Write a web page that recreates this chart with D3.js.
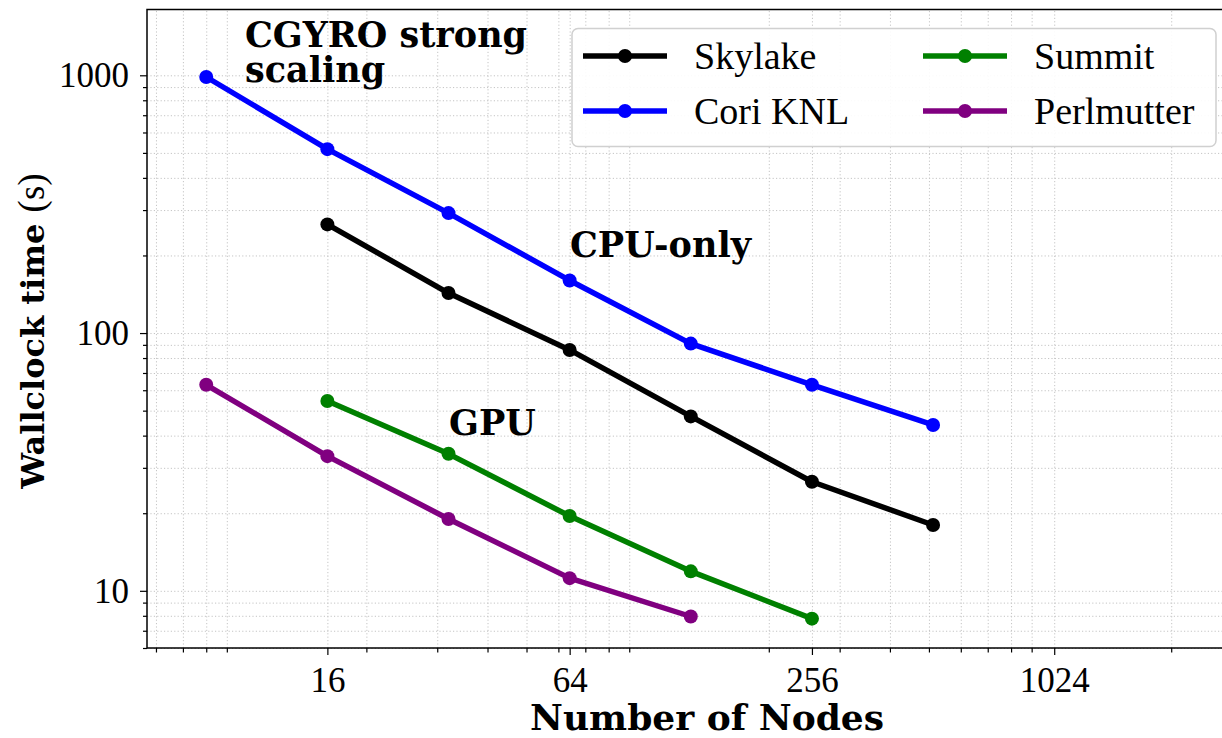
<!DOCTYPE html>
<html lang="en">
  <head>
    <meta charset="UTF-8" />
    <title>CGYRO strong scaling</title>
    <script src="https://cdn.jsdelivr.net/npm/d3@7"></script>
    <style>
      body { margin: 0; background: #fff; }
      .grid line { stroke: #c4c4c4; stroke-width: 1; stroke-dasharray: 1.2, 2.2; }
      .rm { font-family: "Liberation Serif"; }
      .bf { font-family: "DejaVu Serif"; font-weight: bold; }
    </style>
  </head>
  <body>
    <svg width="1222" height="738"></svg>
    <script>
      // data
      var nodes = [8, 16, 32, 64, 128, 256, 512];
      var skylake = [null, 264, 143, 86, 47.5, 26.5, 18];
      var coriKNL = [985, 517, 292, 160, 91, 63, 44];
      var summit = [null, 54.5, 34, 19.5, 11.9, 7.8, null];
      var perlmutter = [63, 33.3, 19, 11.2, 7.95, null, null];

      var xTicks = [16, 64, 256, 1024];
      var yTicks = [10, 100, 1000];

      var series = [
        { name: "Skylake", color: "black", values: skylake },
        { name: "Cori KNL", color: "blue", values: coriKNL },
        { name: "Summit", color: "green", values: summit },
        { name: "Perlmutter", color: "purple", values: perlmutter }
      ];

      var svg = d3.select("svg");
      var plotL = 147, plotT = 9.5, plotB = 648, plotR = 1267;

      var x = d3.scaleLog().domain([5.7, 3460]).range([plotL, plotR]);
      var y = d3.scaleLog().domain([6, 1800]).range([plotB, plotT]);

      // minor ticks: 2..9 times each decade
      function minors(domain) {
        var out = [];
        for (var p = 0; p <= 4; p++) {
          for (var k = 2; k <= 9; k++) {
            var v = k * Math.pow(10, p);
            if (v >= domain[0] && v <= domain[1]) out.push(v);
          }
        }
        return out;
      }
      var xMinor = minors(x.domain());
      var yMinor = minors(y.domain());

      // grid
      svg.append("g")
        .attr("class", "grid")
        .attr("transform", "translate(0," + plotB + ")")
        .call(d3.axisBottom(x).tickValues(xTicks.concat(xMinor)).tickSize(-(plotB - plotT)).tickFormat(""))
        .call(function (g) { g.select(".domain").remove(); });

      svg.append("g")
        .attr("class", "grid")
        .attr("transform", "translate(" + plotL + ",0)")
        .call(d3.axisLeft(y).tickValues(yTicks.concat(yMinor)).tickSize(-(plotR - plotL)).tickFormat(""))
        .call(function (g) { g.select(".domain").remove(); });

      // lines and markers
      var line = d3.line()
        .defined(function (d) { return d[1] != null; })
        .x(function (d) { return x(d[0]); })
        .y(function (d) { return y(d[1]); });

      series.forEach(function (s) {
        var pts = nodes.map(function (n, i) { return [n, s.values[i]]; });
        svg.append("path")
          .datum(pts)
          .attr("fill", "none")
          .attr("stroke", s.color)
          .attr("stroke-width", 5.5)
          .attr("stroke-linejoin", "round")
          .attr("d", line);
        svg.selectAll(null)
          .data(pts.filter(function (d) { return d[1] != null; }))
          .enter()
          .append("circle")
          .attr("cx", function (d) { return x(d[0]); })
          .attr("cy", function (d) { return y(d[1]); })
          .attr("r", 7)
          .attr("fill", s.color);
      });

      // axes
      var xAxis = svg.append("g")
        .attr("transform", "translate(0," + plotB + ")")
        .call(d3.axisBottom(x).tickValues(xTicks).tickSize(7).tickPadding(9).tickFormat(d3.format("d")));
      svg.append("g")
        .attr("transform", "translate(0," + plotB + ")")
        .call(d3.axisBottom(x).tickValues(xMinor).tickSize(4.5).tickFormat(""))
        .call(function (g) { g.select(".domain").remove(); });

      var yAxis = svg.append("g")
        .attr("transform", "translate(" + plotL + ",0)")
        .call(d3.axisLeft(y).tickValues(yTicks).tickSize(7).tickPadding(11).tickFormat(d3.format("d")));
      svg.append("g")
        .attr("transform", "translate(" + plotL + ",0)")
        .call(d3.axisLeft(y).tickValues(yMinor).tickSize(4).tickFormat(""))
        .call(function (g) { g.select(".domain").remove(); });

      svg.selectAll(".tick line").filter(function () {
        return !this.parentNode.parentNode.classList.contains("grid");
      }).attr("stroke", "#000").attr("stroke-width", 1.2);

      [xAxis, yAxis].forEach(function (a) {
        a.attr("font-family", null).attr("font-size", 35);
        a.selectAll("text").attr("class", "rm").attr("fill", "#000");
      });
      xAxis.selectAll("text").attr("dy", "0.8em");
      yAxis.selectAll("text").attr("dy", "0.33em");

      // frame
      xAxis.select(".domain").remove();
      yAxis.select(".domain").remove();
      svg.append("rect")
        .attr("x", plotL).attr("y", plotT)
        .attr("width", plotR - plotL).attr("height", plotB - plotT)
        .attr("fill", "none").attr("stroke", "#000").attr("stroke-width", 1.5);

      // axis labels
      svg.append("text")
        .attr("class", "bf")
        .attr("x", 707).attr("y", 730)
        .attr("text-anchor", "middle")
        .attr("font-size", 36)
        .text("Number of Nodes");

      var yl = svg.append("text")
        .attr("transform", "translate(44,331) rotate(-90)")
        .attr("text-anchor", "middle");
      yl.append("tspan").attr("class", "bf").attr("font-size", 32).text("Wallclock time ");
      yl.append("tspan").attr("class", "rm").attr("font-size", 37).text("(s)");

      // annotations
      function note(txt, tx, ty) {
        svg.append("text")
          .attr("class", "bf").attr("font-size", 35)
          .attr("x", tx).attr("y", ty).text(txt);
      }
      note("CGYRO strong", 245, 47);
      note("scaling", 245, 82);
      note("CPU-only", 570, 257);
      note("GPU", 449, 435);

      // legend
      var legend = svg.append("g");
      legend.append("rect")
        .attr("x", 572).attr("y", 28.5)
        .attr("width", 644).attr("height", 118)
        .attr("rx", 6)
        .attr("fill", "#fff").attr("fill-opacity", 0.9)
        .attr("stroke", "#d0d0d0").attr("stroke-width", 1.5);

      var colX = [583, 923], rowY = [56, 111];
      series.forEach(function (s, i) {
        var cx = colX[Math.floor(i / 2)], cy = rowY[i % 2];
        legend.append("line")
          .attr("x1", cx).attr("x2", cx + 84)
          .attr("y1", cy).attr("y2", cy)
          .attr("stroke", s.color).attr("stroke-width", 5.5);
        legend.append("circle")
          .attr("cx", cx + 42).attr("cy", cy).attr("r", 7)
          .attr("fill", s.color);
        legend.append("text")
          .attr("class", "rm").attr("font-size", 38)
          .attr("x", cx + 111).attr("y", cy + 13)
          .text(s.name);
      });
    </script>
  </body>
</html>
